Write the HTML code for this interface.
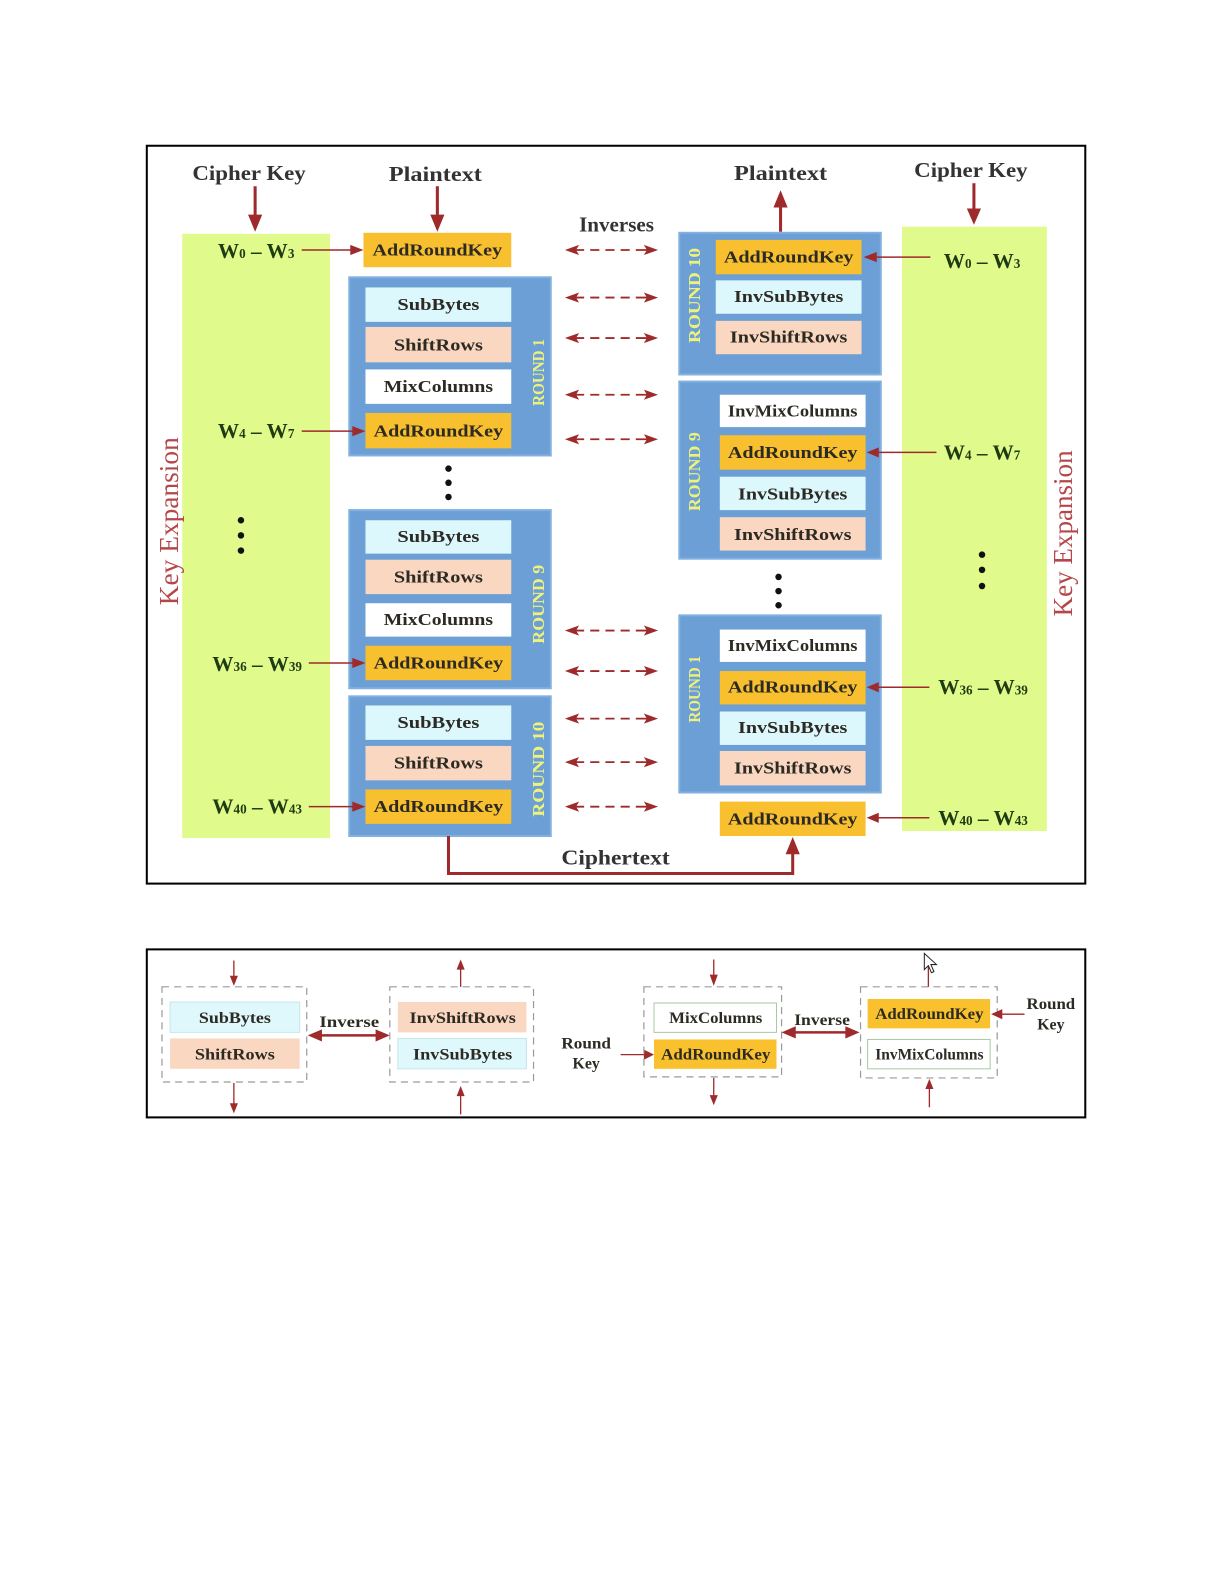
<!DOCTYPE html>
<html><head><meta charset="utf-8"><style>
html,body{margin:0;padding:0;background:#fff;}
svg{display:block;}
text{font-family:"Liberation Serif",serif;}
.t{font-weight:bold;fill:#333;font-size:21px;text-anchor:middle;dominant-baseline:central;}
.b{font-weight:bold;fill:#2c2a22;font-size:17px;text-anchor:middle;dominant-baseline:central;}
.w{font-weight:bold;fill:#1f3b12;font-size:21px;text-anchor:middle;dominant-baseline:central;}
.r{font-weight:bold;fill:#eef27a;font-size:17px;text-anchor:middle;dominant-baseline:central;}
.ke{fill:#b5474a;font-size:27px;text-anchor:middle;dominant-baseline:central;}
.s{font-weight:bold;fill:#2c2a22;font-size:16px;text-anchor:middle;dominant-baseline:central;}
.ora{fill:#f8bf2f;}
.cya{fill:#ddf8fd;}
.pea{fill:#fad7c1;}
.wht{fill:#ffffff;}
.blu{fill:#6c9fd6;stroke:#82b0e0;stroke-width:2;}
.grn{fill:#e0fa8c;}
.dr{stroke:#9e2a2b;fill:none;}
.dh{fill:#9e2a2b;}
.dash{stroke:#9e2a2b;stroke-width:1.8;stroke-dasharray:10 6 9 6 9 6 9 6 14;fill:none;}
.gd{fill:none;stroke:#9a9a9a;stroke-width:1.2;stroke-dasharray:7,5;}
</style></head><body>
<svg width="1225" height="1585" viewBox="0 0 1210 1566" preserveAspectRatio="none" xmlns="http://www.w3.org/2000/svg">
<rect x="0" y="0" width="1210" height="1566" fill="#fff"/>

<!-- Frames -->
<rect x="145" y="144" width="927" height="729" fill="none" stroke="#000" stroke-width="2"/>
<rect x="145" y="938" width="927" height="166" fill="none" stroke="#000" stroke-width="2"/>

<!-- Left green column -->
<rect class="grn" x="180" y="231" width="146" height="597"/>
<!-- Right green column -->
<rect class="grn" x="891" y="224" width="143" height="597"/>

<!-- Titles -->
<text class="t" x="246" y="171" textLength="112" lengthAdjust="spacingAndGlyphs">Cipher Key</text>
<text class="t" x="430" y="172" textLength="92" lengthAdjust="spacingAndGlyphs">Plaintext</text>
<text class="t" x="771" y="171" textLength="92" lengthAdjust="spacingAndGlyphs">Plaintext</text>
<text class="t" x="959" y="168" textLength="112" lengthAdjust="spacingAndGlyphs">Cipher Key</text>
<text class="t" x="609" y="222" font-size="18" textLength="74" lengthAdjust="spacingAndGlyphs">Inverses</text>
<text class="t" x="608" y="847" textLength="107" lengthAdjust="spacingAndGlyphs">Ciphertext</text>

<!-- Title arrows -->
<line class="dr" x1="252" y1="184" x2="252" y2="214" stroke-width="3"/>
<polygon class="dh" points="245,212 259,212 252,229"/>
<line class="dr" x1="432" y1="184" x2="432" y2="214" stroke-width="3"/>
<polygon class="dh" points="425,212 439,212 432,229"/>
<line class="dr" x1="771" y1="229" x2="771" y2="203" stroke-width="3"/>
<polygon class="dh" points="764,205 778,205 771,188"/>
<line class="dr" x1="962" y1="181" x2="962" y2="208" stroke-width="3"/>
<polygon class="dh" points="955,206 969,206 962,222"/>

<!-- Key Expansion labels -->
<text class="ke" transform="translate(167,515) rotate(-90)" textLength="166" lengthAdjust="spacingAndGlyphs">Key Expansion</text>
<text class="ke" transform="translate(1050,527) rotate(-90)" textLength="164" lengthAdjust="spacingAndGlyphs">Key Expansion</text>

<!-- ===== LEFT (encryption) ===== -->
<rect class="ora" x="359" y="230" width="146" height="34"/>
<text class="b" x="432" y="247" textLength="128" lengthAdjust="spacingAndGlyphs">AddRoundKey</text>

<!-- Round 1 -->
<rect class="blu" x="345" y="274" width="199" height="176"/>
<rect class="cya" x="361" y="284" width="144" height="34"/>
<text class="b" x="433" y="301" textLength="81" lengthAdjust="spacingAndGlyphs">SubBytes</text>
<rect class="pea" x="361" y="323" width="144" height="35"/>
<text class="b" x="433" y="341" textLength="88" lengthAdjust="spacingAndGlyphs">ShiftRows</text>
<rect class="wht" x="361" y="365" width="144" height="34"/>
<text class="b" x="433" y="382" textLength="108" lengthAdjust="spacingAndGlyphs">MixColumns</text>
<rect class="ora" x="361" y="408" width="144" height="35"/>
<text class="b" x="433" y="426" textLength="128" lengthAdjust="spacingAndGlyphs">AddRoundKey</text>
<text class="r" transform="translate(532,368) rotate(-90)" textLength="66" lengthAdjust="spacingAndGlyphs">ROUND 1</text>

<!-- dots -->
<circle cx="443" cy="463" r="3.2" fill="#111"/>
<circle cx="443" cy="477" r="3.2" fill="#111"/>
<circle cx="443" cy="491" r="3.2" fill="#111"/>
<circle cx="238" cy="514" r="3.2" fill="#111"/>
<circle cx="238" cy="529" r="3.2" fill="#111"/>
<circle cx="238" cy="544" r="3.2" fill="#111"/>

<!-- Round 9 -->
<rect class="blu" x="345" y="504" width="199" height="176"/>
<rect class="cya" x="361" y="514" width="144" height="33"/>
<text class="b" x="433" y="530" textLength="81" lengthAdjust="spacingAndGlyphs">SubBytes</text>
<rect class="pea" x="361" y="553" width="144" height="34"/>
<text class="b" x="433" y="570" textLength="88" lengthAdjust="spacingAndGlyphs">ShiftRows</text>
<rect class="wht" x="361" y="596" width="144" height="33"/>
<text class="b" x="433" y="612" textLength="108" lengthAdjust="spacingAndGlyphs">MixColumns</text>
<rect class="ora" x="361" y="638" width="144" height="34"/>
<text class="b" x="433" y="655" textLength="128" lengthAdjust="spacingAndGlyphs">AddRoundKey</text>
<text class="r" transform="translate(532,597) rotate(-90)" textLength="78" lengthAdjust="spacingAndGlyphs">ROUND 9</text>

<!-- Round 10 -->
<rect class="blu" x="345" y="688" width="199" height="138"/>
<rect class="cya" x="361" y="697" width="144" height="34"/>
<text class="b" x="433" y="714" textLength="81" lengthAdjust="spacingAndGlyphs">SubBytes</text>
<rect class="pea" x="361" y="737" width="144" height="34"/>
<text class="b" x="433" y="754" textLength="88" lengthAdjust="spacingAndGlyphs">ShiftRows</text>
<rect class="ora" x="361" y="780" width="144" height="34"/>
<text class="b" x="433" y="797" textLength="128" lengthAdjust="spacingAndGlyphs">AddRoundKey</text>
<text class="r" transform="translate(532,760) rotate(-90)" textLength="94" lengthAdjust="spacingAndGlyphs">ROUND 10</text>

<!-- Left W labels & arrows -->
<text class="w" x="253" y="248">W<tspan font-size="13" dy="2">0</tspan><tspan dy="-2"> – W</tspan><tspan font-size="13" dy="2">3</tspan></text>
<line class="dr" x1="298" y1="247" x2="348" y2="247" stroke-width="1.5"/>
<polygon class="dh" points="346,242 346,252 359,247"/>
<text class="w" x="253" y="426">W<tspan font-size="13" dy="2">4</tspan><tspan dy="-2"> – W</tspan><tspan font-size="13" dy="2">7</tspan></text>
<line class="dr" x1="298" y1="426" x2="350" y2="426" stroke-width="1.5"/>
<polygon class="dh" points="348,421 348,431 361,426"/>
<text class="w" x="254" y="656">W<tspan font-size="13" dy="2">36</tspan><tspan dy="-2"> – W</tspan><tspan font-size="13" dy="2">39</tspan></text>
<line class="dr" x1="305" y1="655" x2="350" y2="655" stroke-width="1.5"/>
<polygon class="dh" points="348,650 348,660 361,655"/>
<text class="w" x="254" y="797">W<tspan font-size="13" dy="2">40</tspan><tspan dy="-2"> – W</tspan><tspan font-size="13" dy="2">43</tspan></text>
<line class="dr" x1="305" y1="797" x2="350" y2="797" stroke-width="1.5"/>
<polygon class="dh" points="348,792 348,802 361,797"/>

<!-- Ciphertext path -->
<polyline class="dr" points="443,826 443,863 783,863 783,842" stroke-width="3"/>
<polygon class="dh" points="776,844 790,844 783,827"/>

<!-- Dashed double arrows -->
<g>
<line class="dash" x1="567" y1="247" x2="640" y2="247"/>
<polygon class="dh" points="558,247 572,242 569,247 572,252"/><polygon class="dh" points="650,247 636,242 639,247 636,252"/>
<line class="dash" x1="567" y1="294" x2="640" y2="294"/>
<polygon class="dh" points="558,294 572,289 569,294 572,299"/><polygon class="dh" points="650,294 636,289 639,294 636,299"/>
<line class="dash" x1="567" y1="334" x2="640" y2="334"/>
<polygon class="dh" points="558,334 572,329 569,334 572,339"/><polygon class="dh" points="650,334 636,329 639,334 636,339"/>
<line class="dash" x1="567" y1="390" x2="640" y2="390"/>
<polygon class="dh" points="558,390 572,385 569,390 572,395"/><polygon class="dh" points="650,390 636,385 639,390 636,395"/>
<line class="dash" x1="567" y1="434" x2="640" y2="434"/>
<polygon class="dh" points="558,434 572,429 569,434 572,439"/><polygon class="dh" points="650,434 636,429 639,434 636,439"/>
<line class="dash" x1="567" y1="623" x2="640" y2="623"/>
<polygon class="dh" points="558,623 572,618 569,623 572,628"/><polygon class="dh" points="650,623 636,618 639,623 636,628"/>
<line class="dash" x1="567" y1="663" x2="640" y2="663"/>
<polygon class="dh" points="558,663 572,658 569,663 572,668"/><polygon class="dh" points="650,663 636,658 639,663 636,668"/>
<line class="dash" x1="567" y1="710" x2="640" y2="710"/>
<polygon class="dh" points="558,710 572,705 569,710 572,715"/><polygon class="dh" points="650,710 636,705 639,710 636,715"/>
<line class="dash" x1="567" y1="753" x2="640" y2="753"/>
<polygon class="dh" points="558,753 572,748 569,753 572,758"/><polygon class="dh" points="650,753 636,748 639,753 636,758"/>
<line class="dash" x1="567" y1="797" x2="640" y2="797"/>
<polygon class="dh" points="558,797 572,792 569,797 572,802"/><polygon class="dh" points="650,797 636,792 639,797 636,802"/>
</g>

<!-- ===== RIGHT (decryption) ===== -->
<!-- Round 10 -->
<rect class="blu" x="671" y="230" width="199" height="140"/>
<rect class="ora" x="707" y="237" width="144" height="34"/>
<text class="b" x="779" y="254" textLength="128" lengthAdjust="spacingAndGlyphs">AddRoundKey</text>
<rect class="cya" x="707" y="277" width="144" height="33"/>
<text class="b" x="779" y="293" textLength="108" lengthAdjust="spacingAndGlyphs">InvSubBytes</text>
<rect class="pea" x="707" y="317" width="144" height="33"/>
<text class="b" x="779" y="333" textLength="116" lengthAdjust="spacingAndGlyphs">InvShiftRows</text>
<text class="r" transform="translate(686,292) rotate(-90)" textLength="94" lengthAdjust="spacingAndGlyphs">ROUND 10</text>

<!-- Round 9 -->
<rect class="blu" x="671" y="377" width="199" height="175"/>
<rect class="wht" x="711" y="390" width="144" height="32"/>
<text class="b" x="783" y="406" font-size="16" textLength="128" lengthAdjust="spacingAndGlyphs">InvMixColumns</text>
<rect class="ora" x="711" y="430" width="144" height="34"/>
<text class="b" x="783" y="447" textLength="128" lengthAdjust="spacingAndGlyphs">AddRoundKey</text>
<rect class="cya" x="711" y="471" width="144" height="33"/>
<text class="b" x="783" y="488" textLength="108" lengthAdjust="spacingAndGlyphs">InvSubBytes</text>
<rect class="pea" x="711" y="511" width="144" height="33"/>
<text class="b" x="783" y="528" textLength="116" lengthAdjust="spacingAndGlyphs">InvShiftRows</text>
<text class="r" transform="translate(686,466) rotate(-90)" textLength="78" lengthAdjust="spacingAndGlyphs">ROUND 9</text>

<!-- dots -->
<circle cx="769" cy="570" r="3.2" fill="#111"/>
<circle cx="769" cy="584" r="3.2" fill="#111"/>
<circle cx="769" cy="598" r="3.2" fill="#111"/>
<circle cx="970" cy="548" r="3.2" fill="#111"/>
<circle cx="970" cy="563" r="3.2" fill="#111"/>
<circle cx="970" cy="579" r="3.2" fill="#111"/>

<!-- Round 1 -->
<rect class="blu" x="671" y="608" width="199" height="175"/>
<rect class="wht" x="711" y="622" width="144" height="32"/>
<text class="b" x="783" y="638" font-size="16" textLength="128" lengthAdjust="spacingAndGlyphs">InvMixColumns</text>
<rect class="ora" x="711" y="663" width="144" height="33"/>
<text class="b" x="783" y="679" textLength="128" lengthAdjust="spacingAndGlyphs">AddRoundKey</text>
<rect class="cya" x="711" y="703" width="144" height="33"/>
<text class="b" x="783" y="719" textLength="108" lengthAdjust="spacingAndGlyphs">InvSubBytes</text>
<rect class="pea" x="711" y="742" width="144" height="34"/>
<text class="b" x="783" y="759" textLength="116" lengthAdjust="spacingAndGlyphs">InvShiftRows</text>
<text class="r" transform="translate(686,681) rotate(-90)" textLength="66" lengthAdjust="spacingAndGlyphs">ROUND 1</text>

<!-- Final AddRoundKey -->
<rect class="ora" x="711" y="792" width="144" height="34"/>
<text class="b" x="783" y="809" textLength="128" lengthAdjust="spacingAndGlyphs">AddRoundKey</text>

<!-- Right W labels & arrows -->
<text class="w" x="970" y="258">W<tspan font-size="13" dy="2">0</tspan><tspan dy="-2"> – W</tspan><tspan font-size="13" dy="2">3</tspan></text>
<line class="dr" x1="919" y1="254" x2="864" y2="254" stroke-width="1.5"/>
<polygon class="dh" points="866,249 866,259 853,254"/>
<text class="w" x="970" y="447">W<tspan font-size="13" dy="2">4</tspan><tspan dy="-2"> – W</tspan><tspan font-size="13" dy="2">7</tspan></text>
<line class="dr" x1="925" y1="447" x2="866" y2="447" stroke-width="1.5"/>
<polygon class="dh" points="868,442 868,452 856,447"/>
<text class="w" x="971" y="679">W<tspan font-size="13" dy="2">36</tspan><tspan dy="-2"> – W</tspan><tspan font-size="13" dy="2">39</tspan></text>
<line class="dr" x1="918" y1="679" x2="866" y2="679" stroke-width="1.5"/>
<polygon class="dh" points="868,674 868,684 856,679"/>
<text class="w" x="971" y="808">W<tspan font-size="13" dy="2">40</tspan><tspan dy="-2"> – W</tspan><tspan font-size="13" dy="2">43</tspan></text>
<line class="dr" x1="918" y1="808" x2="866" y2="808" stroke-width="1.5"/>
<polygon class="dh" points="868,803 868,813 856,808"/>

<!-- ===== BOTTOM FRAME ===== -->
<!-- Group 1 -->
<rect class="gd" x="160" y="975" width="143" height="94"/>
<rect x="168" y="990" width="128" height="30" fill="#dff8fc" stroke="#c6e6ec" stroke-width="1"/>
<text class="s" x="232" y="1006" textLength="71" lengthAdjust="spacingAndGlyphs">SubBytes</text>
<rect x="168" y="1026" width="128" height="30" fill="#fad7c1"/>
<text class="s" x="232" y="1042" textLength="79" lengthAdjust="spacingAndGlyphs">ShiftRows</text>
<line class="dr" x1="231" y1="949" x2="231" y2="965" stroke-width="1.3"/>
<polygon class="dh" points="227,964 235,964 231,974"/>
<line class="dr" x1="231" y1="1070" x2="231" y2="1091" stroke-width="1.3"/>
<polygon class="dh" points="227,1090 235,1090 231,1100"/>

<!-- Inverse 1 -->
<text class="s" x="345" y="1010" textLength="59" lengthAdjust="spacingAndGlyphs">Inverse</text>
<line class="dr" x1="315" y1="1023" x2="374" y2="1023" stroke-width="2.5"/>
<polygon class="dh" points="304,1023 318,1017 318,1029"/>
<polygon class="dh" points="385,1023 371,1017 371,1029"/>

<!-- Group 2 -->
<rect class="gd" x="385" y="975" width="142" height="94"/>
<rect x="393" y="990" width="127" height="30" fill="#fad7c1"/>
<text class="s" x="457" y="1006" textLength="105" lengthAdjust="spacingAndGlyphs">InvShiftRows</text>
<rect x="393" y="1026" width="127" height="30" fill="#dff8fc" stroke="#c6e6ec" stroke-width="1"/>
<text class="s" x="457" y="1042" textLength="98" lengthAdjust="spacingAndGlyphs">InvSubBytes</text>
<line class="dr" x1="455" y1="975" x2="455" y2="957" stroke-width="1.3"/>
<polygon class="dh" points="451,958 459,958 455,948"/>
<line class="dr" x1="455" y1="1101" x2="455" y2="1082" stroke-width="1.3"/>
<polygon class="dh" points="451,1083 459,1083 455,1073"/>

<!-- Round Key left -->
<text class="s" x="579" y="1031" textLength="49" lengthAdjust="spacingAndGlyphs">Round</text>
<text class="s" x="579" y="1051" textLength="27" lengthAdjust="spacingAndGlyphs">Key</text>
<line class="dr" x1="613" y1="1042" x2="637" y2="1042" stroke-width="1.3"/>
<polygon class="dh" points="636,1037 636,1047 646,1042"/>

<!-- Group 3 -->
<rect class="gd" x="636" y="975" width="136" height="89"/>
<rect x="646" y="991" width="121" height="29" fill="#fff" stroke="#a9c9a2" stroke-width="1"/>
<text class="s" x="707" y="1006" font-size="15" textLength="92" lengthAdjust="spacingAndGlyphs">MixColumns</text>
<rect x="646" y="1027" width="121" height="29" fill="#f9c12e"/>
<text class="s" x="707" y="1042" textLength="108" lengthAdjust="spacingAndGlyphs">AddRoundKey</text>
<line class="dr" x1="705" y1="948" x2="705" y2="964" stroke-width="1.3"/>
<polygon class="dh" points="701,963 709,963 705,974"/>
<line class="dr" x1="705" y1="1065" x2="705" y2="1083" stroke-width="1.3"/>
<polygon class="dh" points="701,1082 709,1082 705,1092"/>

<!-- Inverse 2 -->
<text class="s" x="812" y="1008" font-size="15" textLength="55" lengthAdjust="spacingAndGlyphs">Inverse</text>
<line class="dr" x1="783" y1="1020" x2="838" y2="1020" stroke-width="2.5"/>
<polygon class="dh" points="772,1020 786,1014 786,1026"/>
<polygon class="dh" points="849,1020 835,1014 835,1026"/>

<!-- Group 4 -->
<rect class="gd" x="850" y="975" width="135" height="90"/>
<rect x="857" y="987" width="121" height="29" fill="#f9c12e"/>
<text class="s" x="918" y="1002" textLength="107" lengthAdjust="spacingAndGlyphs">AddRoundKey</text>
<rect x="857" y="1027" width="121" height="29" fill="#fff" stroke="#a9c9a2" stroke-width="1"/>
<text class="s" x="918" y="1042" font-size="13" textLength="107" lengthAdjust="spacingAndGlyphs">InvMixColumns</text>
<line class="dr" x1="917" y1="975" x2="917" y2="955" stroke-width="1.3"/>
<line class="dr" x1="918" y1="1094" x2="918" y2="1075" stroke-width="1.3"/>
<polygon class="dh" points="914,1076 922,1076 918,1066"/>

<!-- Round Key right -->
<text class="s" x="1038" y="992" textLength="48" lengthAdjust="spacingAndGlyphs">Round</text>
<text class="s" x="1038" y="1012" textLength="27" lengthAdjust="spacingAndGlyphs">Key</text>
<line class="dr" x1="1012" y1="1002" x2="989" y2="1002" stroke-width="1.3"/>
<polygon class="dh" points="990,997 990,1007 979,1002"/>

<!-- Mouse cursor -->
<path d="M913,942 L913,958 L917,954 L920,961 L922.5,960 L919.5,953 L925,953 Z" fill="#fff" stroke="#222" stroke-width="1"/>
</svg>
</body></html>
